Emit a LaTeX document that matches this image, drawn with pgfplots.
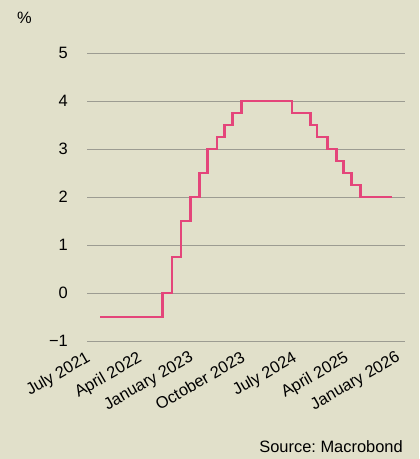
\documentclass[border=0pt]{standalone}
\usepackage{fontspec}
\setmainfont{Liberation Sans}
\usepackage{pgfplots}
\pgfplotsset{compat=1.18}
\usetikzlibrary{backgrounds}
\definecolor{bgbeige}{HTML}{E1E0CA}
\definecolor{ratepink}{HTML}{E4457A}
\definecolor{gridgray}{HTML}{9C9C92}
\frenchspacing

\begin{document}
\begin{tikzpicture}[x=1bp,y=1bp]
\useasboundingbox (0,0) rectangle (419,459);
\begin{axis}[
  at={(87bp,118bp)}, anchor=south west,
  scale only axis,
  width=318bp, height=288bp,
  xmin=-0.35, xmax=55.05,
  ymin=-1, ymax=5,
  axis line style={draw=none},
  ymajorgrids=true,
  grid style={gridgray, line width=0.9bp},
  major tick length=0pt,
  ytick={-1,0,1,2,3,4,5},
  yticklabels={−1,0,1,2,3,4,5},
  yticklabel style={font=\fontsize{16.5}{18}\selectfont, anchor=east, inner xsep=0pt, xshift=-19bp},
  xtick={0,9,18,27,36,45,54},
  xticklabels={July 2021,April 2022,January 2023,October 2023,July 2024,April 2025,January 2026},
  xticklabel style={font=\fontsize{16.5}{18}\selectfont, rotate=30, anchor=north east, inner sep=0pt, xshift=-8bp, yshift=-6bp},
  clip=false,
]
\addplot[const plot, ratepink, line width=2.8bp] coordinates {
  (2.0,-0.5)
  (12.87,0)
  (14.45,0.75)
  (16.03,1.5)
  (17.67,2.0)
  (19.25,2.5)
  (20.70,3.0)
  (22.30,3.25)
  (23.67,3.5)
  (25.03,3.75)
  (26.63,4.0)
  (35.37,3.75)
  (38.57,3.5)
  (39.73,3.25)
  (41.57,3.0)
  (43.13,2.75)
  (44.37,2.5)
  (45.73,2.25)
  (47.33,2.0)
  (52.80,2.0)
};
\end{axis}
\node[anchor=west, font=\fontsize{16.5}{18}\selectfont, inner sep=0pt] at (17,441) {\%};
\node[anchor=east, font=\fontsize{16.5}{18}\selectfont, inner sep=0pt] at (403,12) {Source: Macrobond};
\begin{scope}[on background layer]
\fill[bgbeige] (0,0) rectangle (419,459);
\end{scope}
\end{tikzpicture}
\end{document}
